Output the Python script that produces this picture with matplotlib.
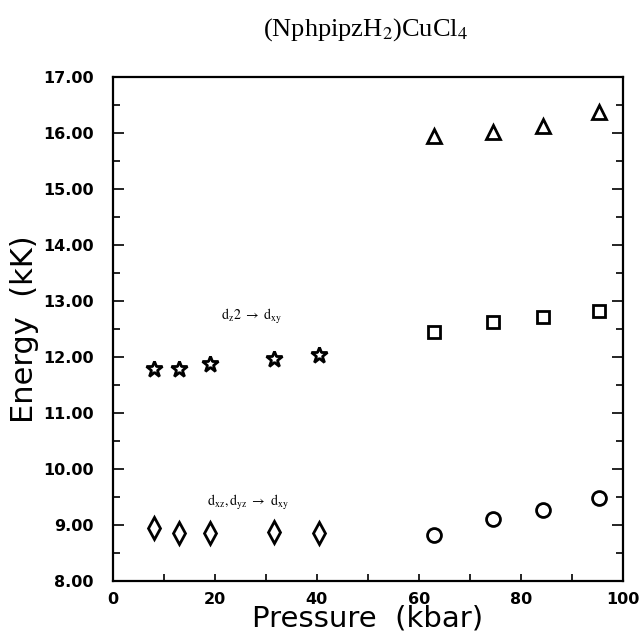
import numpy as np
import matplotlib.pyplot as plt
from matplotlib.ticker import MultipleLocator, FormatStrFormatter

plt.rcParams['mathtext.fontset'] = 'stix'

# low pressure phase
p_low = [8.0, 13.0, 19.0, 31.5, 40.5]
e_star = [11.78, 11.78, 11.87, 11.97, 12.03]
e_diamond = [8.95, 8.85, 8.85, 8.87, 8.85]

# high pressure phase
p_high = [63.0, 74.5, 84.3, 95.3]
e_triangle = [15.95, 16.02, 16.12, 16.38]
e_square = [12.45, 12.63, 12.72, 12.83]
e_circle = [8.82, 9.11, 9.26, 9.49]

fig = plt.figure(figsize=(6.42, 6.34), dpi=100)
ax = fig.add_axes([0.176, 0.0836, 0.794, 0.795])

style = dict(linestyle='none', mfc='white', mec='black', mew=2.0)
ax.plot(p_low, e_star, marker='*', markersize=12, **style)
ax.plot(p_low, e_diamond, marker='d', markersize=11, **style)
ax.plot(p_high, e_triangle, marker='^', markersize=10, **style)
ax.plot(p_high, e_square, marker='s', markersize=8.5, **style)
ax.plot(p_high, e_circle, marker='o', markersize=10, **style)

ax.set_xlim(0, 100)
ax.set_ylim(8, 17)
ax.xaxis.set_major_locator(MultipleLocator(20))
ax.xaxis.set_minor_locator(MultipleLocator(10))
ax.yaxis.set_major_locator(MultipleLocator(1))
ax.yaxis.set_minor_locator(MultipleLocator(0.5))
ax.yaxis.set_major_formatter(FormatStrFormatter('%.2f'))

ax.tick_params(axis='x', which='both', direction='in', length=5, width=1.2,
               top=False, pad=8, labelsize=11.5)
ax.tick_params(axis='y', which='major', direction='in', length=8, width=1.2,
               right=True, pad=14, labelsize=11.5)
ax.tick_params(axis='y', which='minor', direction='in', length=5, width=1.2,
               right=True)
for lab in ax.get_xticklabels() + ax.get_yticklabels():
    lab.set_fontweight('bold')
for sp in ax.spines.values():
    sp.set_linewidth(1.6)

ax.set_xlabel('Pressure  (kbar)', fontsize=21, va='top')
ax.xaxis.set_label_coords(0.5, -0.047)
ax.set_ylabel('Energy  (kK)', fontsize=22)
ax.yaxis.set_label_coords(-0.145, 0.5)

ax.text(27.3, 12.72, r'$\mathrm{d_{z}2\ \rightarrow\ d_{xy}}$', fontsize=10,
        ha='center', va='center')
ax.text(26.5, 9.4, r'$\mathrm{d_{xz},d_{yz}\ \rightarrow\ d_{xy}}$', fontsize=10,
        ha='center', va='center')

fig.text(0.569, 0.953, r'(NphpipzH$_2$)CuCl$_4$', fontsize=19,
         family='Liberation Serif', ha='center', va='center')

fig.savefig('out.png', dpi=100)
